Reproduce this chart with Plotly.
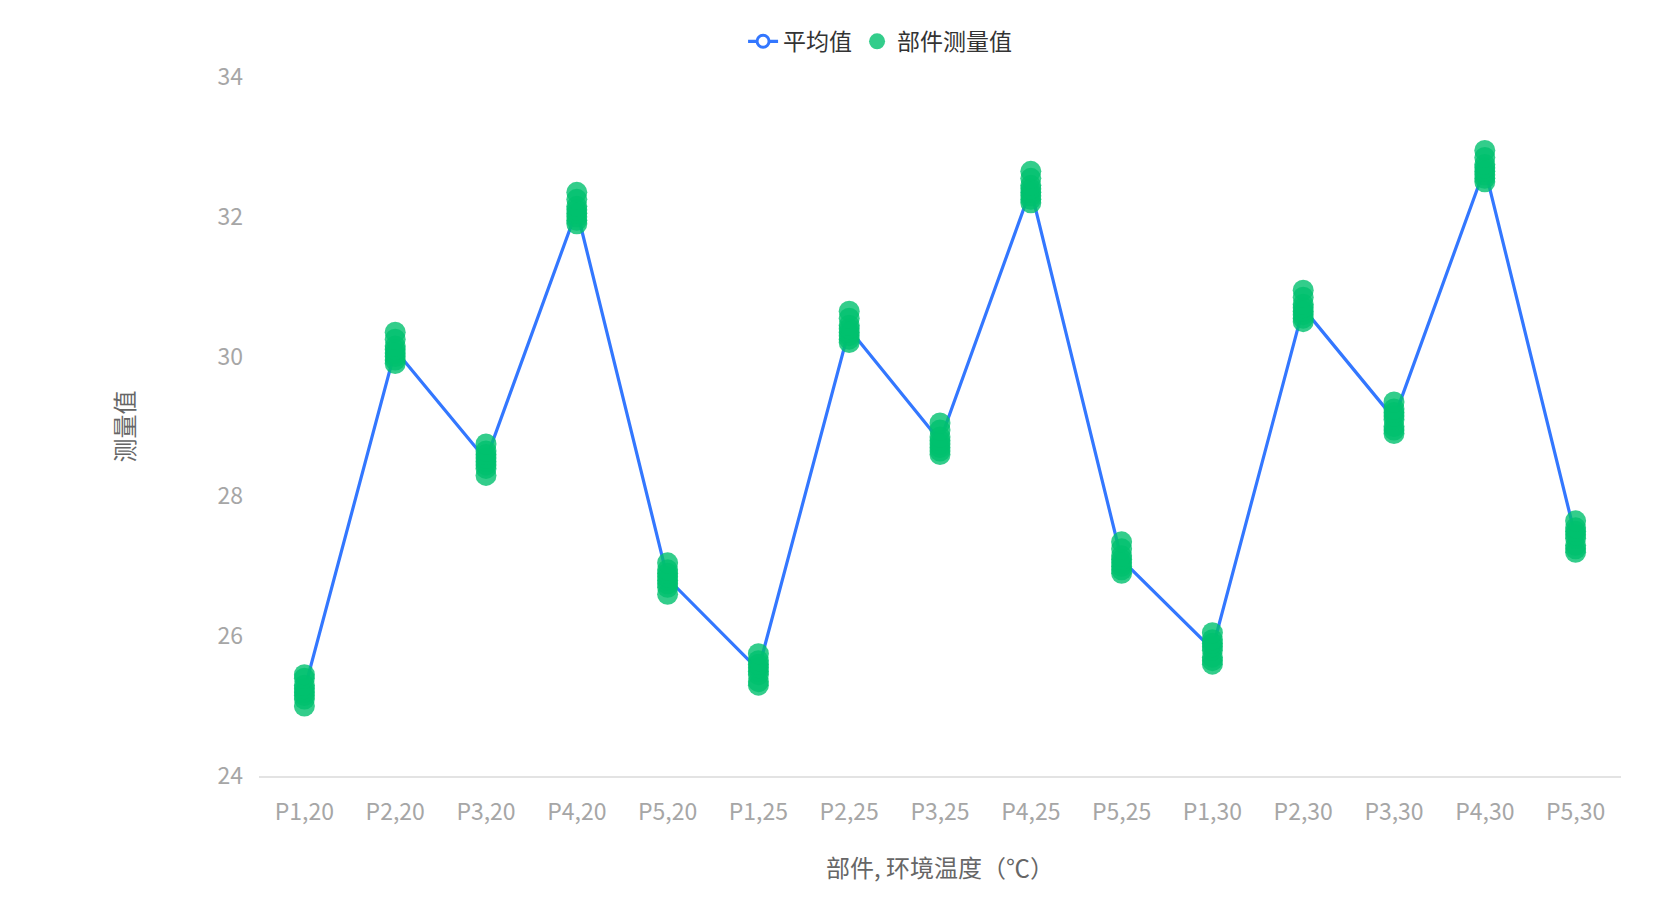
import numpy as np
import plotly.graph_objects as go

# categories: part, ambient temperature
categories = ['P1,20', 'P2,20', 'P3,20', 'P4,20', 'P5,20',
              'P1,25', 'P2,25', 'P3,25', 'P4,25', 'P5,25',
              'P1,30', 'P2,30', 'P3,30', 'P4,30', 'P5,30']

p1_20 = [25.0, 25.1, 25.15, 25.2, 25.25, 25.3, 25.4, 25.45]
p2_20 = [29.9, 29.95, 30.0, 30.05, 30.1, 30.15, 30.25, 30.35]
p3_20 = [28.3, 28.4, 28.45, 28.5, 28.55, 28.6, 28.65, 28.75]
p4_20 = [31.9, 31.95, 32.0, 32.05, 32.1, 32.15, 32.25, 32.35]
p5_20 = [26.6, 26.7, 26.75, 26.8, 26.85, 26.9, 26.95, 27.05]
p1_25 = [25.3, 25.35, 25.45, 25.5, 25.55, 25.6, 25.65, 25.75]
p2_25 = [30.2, 30.25, 30.3, 30.35, 30.4, 30.45, 30.55, 30.65]
p3_25 = [28.6, 28.65, 28.7, 28.75, 28.8, 28.85, 28.95, 29.05]
p4_25 = [32.2, 32.25, 32.3, 32.35, 32.4, 32.45, 32.55, 32.65]
p5_25 = [26.9, 26.95, 27.0, 27.05, 27.1, 27.15, 27.25, 27.35]
p1_30 = [25.6, 25.65, 25.7, 25.8, 25.85, 25.9, 25.95, 26.05]
p2_30 = [30.5, 30.55, 30.6, 30.65, 30.7, 30.75, 30.85, 30.95]
p3_30 = [28.9, 28.95, 29.0, 29.1, 29.15, 29.2, 29.25, 29.35]
p4_30 = [32.5, 32.55, 32.6, 32.65, 32.7, 32.75, 32.85, 32.95]
p5_30 = [27.2, 27.25, 27.3, 27.4, 27.45, 27.5, 27.55, 27.65]

measurements = [p1_20, p2_20, p3_20, p4_20, p5_20,
                p1_25, p2_25, p3_25, p4_25, p5_25,
                p1_30, p2_30, p3_30, p4_30, p5_30]

y_ticks = [24, 26, 28, 30, 32, 34]

blue = '#3377FF'
green = '#00C06E'
font = 'Noto Sans CJK SC, Noto Sans, sans-serif'

means = [float(np.mean(m)) for m in measurements]
pts_x = [c for c, m in zip(categories, measurements) for _ in m]
pts_y = [v for m in measurements for v in m]

fig = go.Figure()
fig.add_trace(go.Scatter(
    x=categories, y=means, mode='lines+markers', name='平均值',
    line=dict(color=blue, width=3.2),
    marker=dict(size=12, color='white', line=dict(color=blue, width=3)),
))
fig.add_trace(go.Scatter(
    x=pts_x, y=pts_y, mode='markers', name='部件测量值',
    marker=dict(size=21, color=green, opacity=0.8),
))

fig.update_layout(
    width=1660, height=898,
    margin=dict(l=251, r=47, t=66, b=130),
    paper_bgcolor='white', plot_bgcolor='white',
    font=dict(family=font, size=23, color='#a6a6a6'),
    legend=dict(orientation='h', x=0.456, xanchor='center', y=1.051, yanchor='middle',
                font=dict(size=23, color='#333333'), itemwidth=30),
    showlegend=True,
)
fig.update_xaxes(
    type='category', range=[-0.5, len(categories) - 0.5],
    showgrid=False, zeroline=False, showline=True, linecolor='#e3e3e3', linewidth=1.5,
    ticks='', ticklabelstandoff=15,
    title=dict(text='部件, 环境温度（℃）', font=dict(size=24, color='#666666'), standoff=34),
)
fig.update_yaxes(
    range=[24, 34], tickvals=y_ticks, showgrid=False, zeroline=False, showline=False,
    ticks='', ticklabelstandoff=15,
    title=dict(text='测量值', font=dict(size=24, color='#666666'), standoff=76),
)

fig.write_html("out.html")
